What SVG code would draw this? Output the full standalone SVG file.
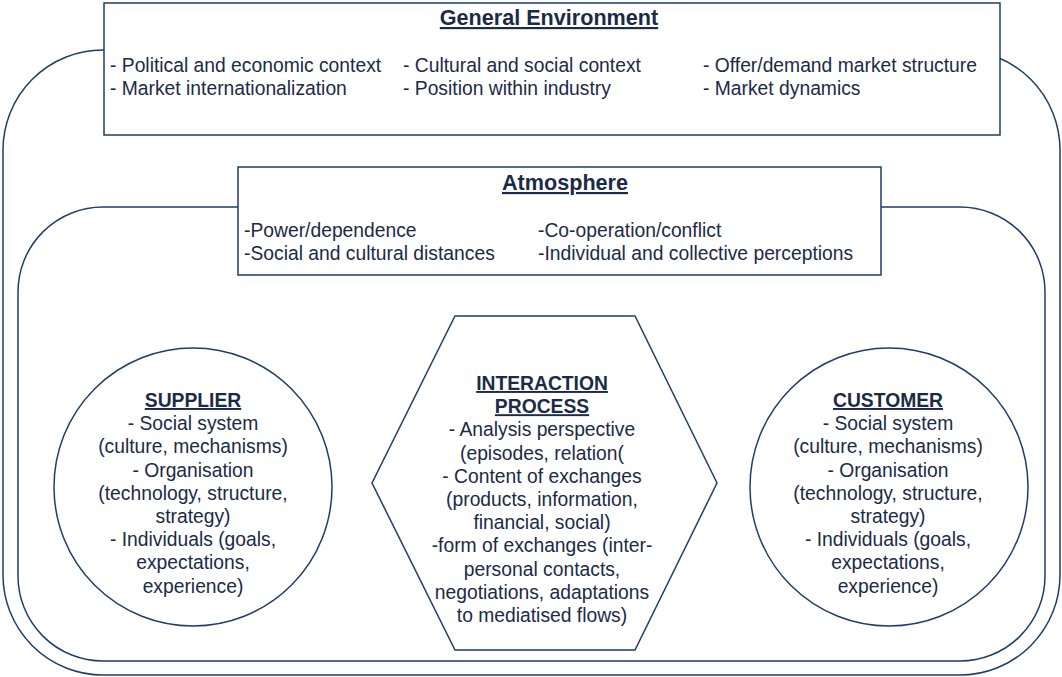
<svg xmlns="http://www.w3.org/2000/svg" width="1062" height="677" viewBox="0 0 1062 677">
<style>
.frame{fill:none;stroke:#1f3d6b;stroke-width:1.5}
.box{fill:#ffffff;stroke:#1f3d6b;stroke-width:1.5}
text{font-family:"Liberation Sans",Arial,sans-serif;fill:#1b2a47;font-size:19.3px}
.t{font-weight:bold;text-decoration:underline}
.big{font-size:21.6px}
.c{text-anchor:middle}
</style>
<rect width="1062" height="677" fill="#ffffff"/>
<g id="connectors"></g>
<g id="general-frame"><rect class="frame" x="3" y="50" width="1057" height="625" rx="100" ry="100"/></g>
<g id="general-environment">
<rect class="box" x="104" y="3" width="896" height="132"/>
<text class="t big c" x="549" y="25">General Environment</text>
<text x="110" y="72">- Political and economic context</text>
<text x="110" y="95">- Market internationalization</text>
<text x="403" y="72">- Cultural and social context</text>
<text x="403" y="95">- Position within industry</text>
<text x="703" y="72">- Offer/demand market structure</text>
<text x="703" y="95">- Market dynamics</text>
</g>
<g id="atmosphere-frame"><rect class="frame" x="18" y="207" width="1027" height="454" rx="85" ry="85"/></g>
<g id="atmosphere">
<rect class="box" x="238" y="167" width="643" height="108"/>
<text class="t big c" x="565" y="190">Atmosphere</text>
<text x="244" y="237">-Power/dependence</text>
<text x="244" y="260">-Social and cultural distances</text>
<text x="538" y="237">-Co-operation/conflict</text>
<text x="538" y="260">-Individual and collective perceptions</text>
</g>
<g id="supplier">
<circle class="box" cx="193" cy="487" r="139"/>
<text class="c" x="193" y="407"><tspan class="t" x="193">SUPPLIER</tspan><tspan x="193" dy="23.2">- Social system</tspan><tspan x="193" dy="23.2">(culture, mechanisms)</tspan><tspan x="193" dy="23.2">- Organisation</tspan><tspan x="193" dy="23.2">(technology, structure,</tspan><tspan x="193" dy="23.2">strategy)</tspan><tspan x="193" dy="23.2">- Individuals (goals,</tspan><tspan x="193" dy="23.2">expectations,</tspan><tspan x="193" dy="23.2">experience)</tspan></text>
</g>
<g id="interaction-process">
<polygon class="box" points="455,316 635,316 717,483 635,650 455,650 372,483"/>
<text class="c" x="542" y="390"><tspan class="t" x="542">INTERACTION</tspan><tspan class="t" x="542" dy="23.2">PROCESS</tspan><tspan x="542" dy="23.2">- Analysis perspective</tspan><tspan x="542" dy="23.2">(episodes, relation(</tspan><tspan x="542" dy="23.2">- Content of exchanges</tspan><tspan x="542" dy="23.2">(products, information,</tspan><tspan x="542" dy="23.2">financial, social)</tspan><tspan x="542" dy="23.2">-form of exchanges (inter-</tspan><tspan x="542" dy="23.2">personal contacts,</tspan><tspan x="542" dy="23.2">negotiations, adaptations</tspan><tspan x="542" dy="23.2">to mediatised flows)</tspan></text>
</g>
<g id="customer">
<circle class="box" cx="889" cy="487" r="139"/>
<text class="c" x="888" y="407"><tspan class="t" x="888">CUSTOMER</tspan><tspan x="888" dy="23.2">- Social system</tspan><tspan x="888" dy="23.2">(culture, mechanisms)</tspan><tspan x="888" dy="23.2">- Organisation</tspan><tspan x="888" dy="23.2">(technology, structure,</tspan><tspan x="888" dy="23.2">strategy)</tspan><tspan x="888" dy="23.2">- Individuals (goals,</tspan><tspan x="888" dy="23.2">expectations,</tspan><tspan x="888" dy="23.2">experience)</tspan></text>
</g>
</svg>
